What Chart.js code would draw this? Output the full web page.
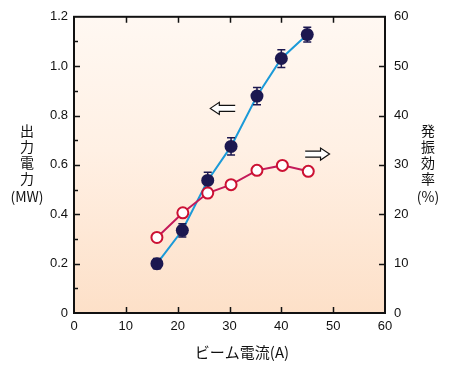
<!DOCTYPE html>
<html>
<head>
<meta charset="utf-8">
<script src="https://cdn.jsdelivr.net/npm/chart.js@4.4.1/dist/chart.umd.min.js"></script>
<style>
  html, body { margin: 0; padding: 0; background: #fff; }
</style>
</head>
<body>
<canvas id="myChart" width="450" height="365"></canvas>
<script>
// beam current (A) and output power (MW) with error bars
const currents = [16.0, 20.9, 25.8, 30.3, 35.3, 40.0, 45.0];
const power = [0.20, 0.335, 0.537, 0.675, 0.879, 1.031, 1.128];
const powerErr = [0.021, 0.027, 0.033, 0.035, 0.035, 0.036, 0.030];

// efficiency (%)
const effCurrents = [16.0, 21.0, 25.8, 30.3, 35.3, 40.2, 45.2];
const efficiency = [15.3, 20.3, 24.3, 26.0, 28.9, 29.9, 28.7];

const xTicks = [0, 10, 20, 30, 40, 50, 60];
const powerTicks = [0, 0.2, 0.4, 0.6, 0.8, 1.0, 1.2];
const effTicks = [0, 10, 20, 30, 40, 50, 60];

const tickFont = { family: "'Liberation Sans', Arial, sans-serif", size: 13 };
const jpFont = "'Noto Sans CJK JP', sans-serif";

const bgPlugin = {
	id: "bg",
	beforeDraw(chart) {
		const { ctx, chartArea: a } = chart;
		const g = ctx.createLinearGradient(0, a.top, 0, a.bottom);
		g.addColorStop(0, "#fff8f2");
		g.addColorStop(0.45, "#fff0e4");
		g.addColorStop(1, "#fde0c8");
		ctx.save();
		ctx.fillStyle = g;
		ctx.fillRect(a.left, a.top, a.right - a.left, a.bottom - a.top);
		ctx.restore();
	},
};

// frame and inward ticks
const framePlugin = {
	id: "frame",
	beforeDatasetsDraw(chart) {
		const { ctx, chartArea: a, scales } = chart;
		ctx.save();
		ctx.strokeStyle = "#111";
		ctx.lineWidth = 1.5;
		ctx.beginPath();
		xTicks.slice(1, -1).forEach((v) => {
			const px = Math.round(scales.x.getPixelForValue(v)) + 0.5;
			ctx.moveTo(px, a.bottom);
			ctx.lineTo(px, a.bottom - 6);
			ctx.moveTo(px, a.top);
			ctx.lineTo(px, a.top + 6);
		});
		powerTicks.slice(1, -1).forEach((v) => {
			const py = Math.round(scales.y.getPixelForValue(v)) + 0.5;
			ctx.moveTo(a.left, py);
			ctx.lineTo(a.left + 6, py);
		});
		for (let i = 0; i < powerTicks.length - 1; i++) {
			const v = (powerTicks[i] + powerTicks[i + 1]) / 2;
			const py = Math.round(scales.y.getPixelForValue(v)) + 0.5;
			ctx.moveTo(a.left, py);
			ctx.lineTo(a.left + 4, py);
		}
		effTicks.slice(1, -1).forEach((v) => {
			const py = Math.round(scales.y2.getPixelForValue(v)) + 0.5;
			ctx.moveTo(a.right, py);
			ctx.lineTo(a.right - 6, py);
		});
		ctx.stroke();
		ctx.lineWidth = 2;
		ctx.strokeRect(a.left, a.top, a.right - a.left, a.bottom - a.top);
		ctx.restore();
	},
};

const errorBarPlugin = {
	id: "errorBars",
	afterDatasetDraw(chart, args) {
		if (args.index !== 0) return;
		const { ctx, scales } = chart;
		ctx.save();
		ctx.strokeStyle = "#1c1850";
		ctx.lineWidth = 1.5;
		ctx.beginPath();
		currents.forEach((c, i) => {
			const px = scales.x.getPixelForValue(c);
			const top = scales.y.getPixelForValue(power[i] + powerErr[i]);
			const bot = scales.y.getPixelForValue(power[i] - powerErr[i]);
			ctx.moveTo(px, top);
			ctx.lineTo(px, bot);
			ctx.moveTo(px - 4, top);
			ctx.lineTo(px + 4, top);
			ctx.moveTo(px - 4, bot);
			ctx.lineTo(px + 4, bot);
		});
		ctx.stroke();
		ctx.restore();
	},
};

function drawArrow(ctx, x0, x1, y, dir) {
	// hollow double-line arrow, head at the "dir" side
	const head = 9, hh = 6, sh = 3;
	const tip = dir < 0 ? Math.min(x0, x1) : Math.max(x0, x1);
	const tail = dir < 0 ? Math.max(x0, x1) : Math.min(x0, x1);
	const base = tip - dir * head;
	ctx.beginPath();
	ctx.moveTo(tail, y - sh);
	ctx.lineTo(base, y - sh);
	ctx.lineTo(base, y - hh);
	ctx.lineTo(tip, y);
	ctx.lineTo(base, y + hh);
	ctx.lineTo(base, y + sh);
	ctx.lineTo(tail, y + sh);
	ctx.fillStyle = "#ffffff";
	ctx.fill();
	ctx.stroke();
}

const labelPlugin = {
	id: "labels",
	afterDraw(chart) {
		const { ctx, chartArea: a, scales } = chart;
		ctx.save();
		ctx.strokeStyle = "#111";
		ctx.lineWidth = 1.2;
		drawArrow(ctx, scales.x.getPixelForValue(26.3), scales.x.getPixelForValue(31.1),
			scales.y.getPixelForValue(0.829), -1);
		drawArrow(ctx, scales.x.getPixelForValue(44.6), scales.x.getPixelForValue(49.3),
			scales.y.getPixelForValue(0.644), 1);

		ctx.fillStyle = "#111";
		ctx.textAlign = "center";
		ctx.textBaseline = "middle";
		ctx.font = "14px " + jpFont;
		const leftX = a.left - 47, rightX = a.right + 43;
		["出", "力", "電", "力"].forEach((ch, i) => ctx.fillText(ch, leftX, 131 + i * 16));
		ctx.fillText("(MW)", leftX, 197);
		["発", "振", "効", "率"].forEach((ch, i) => ctx.fillText(ch, rightX, 131 + i * 16));
		ctx.fillText("(%)", rightX, 197);
		ctx.font = "15px " + jpFont;
		ctx.fillText("ビーム電流(A)", 242, 352);
		ctx.restore();
	},
};

new Chart(document.getElementById("myChart"), {
	type: "line",
	data: {
		datasets: [
			{
				data: currents.map((c, i) => ({ x: c, y: power[i] })),
				yAxisID: "y",
				borderColor: "#1b9ad8",
				borderWidth: 2,
				pointRadius: 6.5,
				pointBackgroundColor: "#1c1850",
				pointBorderColor: "#1c1850",
				pointBorderWidth: 0,
				order: 1,
			},
			{
				data: effCurrents.map((c, i) => ({ x: c, y: efficiency[i] })),
				yAxisID: "y2",
				borderColor: "#c41a5a",
				borderWidth: 2,
				pointRadius: 5.5,
				pointBackgroundColor: "#ffffff",
				pointBorderColor: "#cc1133",
				pointBorderWidth: 2,
				order: 0,
			},
		],
	},
	options: {
		responsive: false,
		animation: false,
		devicePixelRatio: 1,
		layout: { padding: { top: 14, left: 0, right: 0, bottom: 0 } },
		plugins: { legend: { display: false }, tooltip: { enabled: false } },
		scales: {
			x: {
				type: "linear",
				min: 0,
				max: 60,
				afterBuildTicks: (s) => { s.ticks = xTicks.map((v) => ({ value: v })); },
				afterFit: (s) => { s.height = 52; },
				grid: { display: false, drawTicks: false },
				border: { display: false },
				ticks: { font: tickFont, color: "#111", padding: 6, maxRotation: 0 },
			},
			y: {
				position: "left",
				min: 0,
				max: 1.2,
				afterBuildTicks: (s) => { s.ticks = powerTicks.map((v) => ({ value: v })); },
				afterFit: (s) => { s.width = 74; },
				grid: { display: false, drawTicks: false },
				border: { display: false },
				ticks: {
					font: tickFont,
					color: "#111",
					padding: 6,
					callback: (v) => (v === 0 ? "0" : v.toFixed(1)),
				},
			},
			y2: {
				position: "right",
				min: 0,
				max: 60,
				afterBuildTicks: (s) => { s.ticks = effTicks.map((v) => ({ value: v })); },
				afterFit: (s) => { s.width = 65; },
				grid: { display: false, drawTicks: false },
				border: { display: false },
				ticks: { font: tickFont, color: "#111", padding: 9 },
			},
		},
	},
	plugins: [bgPlugin, framePlugin, errorBarPlugin, labelPlugin],
});
</script>
</body>
</html>
